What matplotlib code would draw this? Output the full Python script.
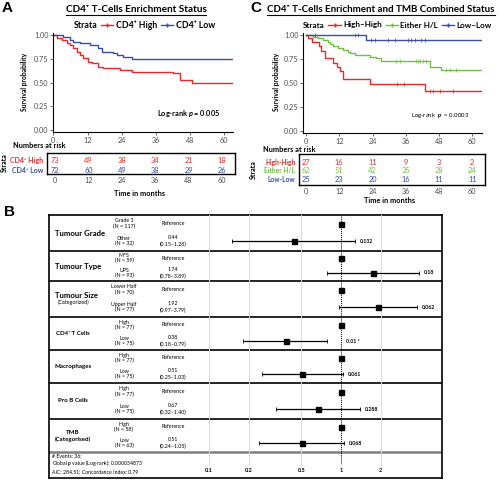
import numpy as np
import matplotlib
matplotlib.use('Agg')
import matplotlib.pyplot as plt
from matplotlib.lines import Line2D

plt.rcParams['font.family'] = ['Lato', 'DejaVu Sans']
plt.rcParams['mathtext.fontset'] = 'custom'
plt.rcParams['mathtext.it'] = 'Lato:italic:bold'
plt.rcParams['mathtext.rm'] = 'Lato:bold'

# ---------------- data: panel A (KM, CD4+ enrichment)
a_names = ['CD4⁺ High', 'CD4⁺ Low']
a_time = [[0, 1.2, 2.9, 4.7, 5.8, 7.0, 8.2, 9.4, 10.5, 12.3, 13.5, 15.8, 17.5, 23.4, 27.5, 42.1, 44.4, 48.5, 62.6],
          [0, 3.5, 5.8, 7.0, 9.4, 12.9, 15.8, 17.0, 21.0, 22.2, 24.6, 27.5, 62.6]]
a_surv = [[1.0, 0.965, 0.95, 0.92, 0.895, 0.86, 0.825, 0.79, 0.755, 0.72, 0.70, 0.667, 0.65, 0.632, 0.614, 0.60, 0.526, 0.498, 0.498],
          [1.0, 0.98, 0.95, 0.93, 0.91, 0.895, 0.86, 0.825, 0.81, 0.79, 0.77, 0.747, 0.747]]
a_risk = [[73, 49, 38, 34, 21, 18],
          [72, 60, 49, 38, 29, 26]]
a_cols = ['#E8282B', '#3A4DA0']

# ---------------- data: panel C (KM, combined status)
c_names = ['High–High', 'Either H/L', 'Low–Low']
c_table_names = ['High-High', 'Either H/L', 'Low-Low']
c_time = [[0, 0.8, 2.2, 4.5, 5.5, 6.8, 9.8, 11.0, 12.2, 13.5, 23.0, 42.8, 63.4],
          [0, 2.6, 4.4, 6.2, 8.0, 8.6, 9.8, 11.6, 13.4, 15.2, 15.8, 17.6, 23.0, 25.4, 27.2, 44.6, 48.8, 63.4],
          [0, 21.6, 63.4]]
c_surv = [[1.0, 0.963, 0.926, 0.889, 0.833, 0.759, 0.713, 0.667, 0.630, 0.541, 0.487, 0.417, 0.417],
          [1.0, 0.983, 0.965, 0.948, 0.93, 0.906, 0.885, 0.861, 0.844, 0.826, 0.809, 0.79, 0.774, 0.757, 0.727, 0.665, 0.632, 0.632],
          [1.0, 0.944, 0.944]]
c_cens = [[32.7, 35.5, 44.6, 45.8, 48.4, 53.0],
          [32.6, 33.8, 39.8, 40.4, 41.0, 42.2, 43.4, 50.6, 51.8, 54.2],
          [3.2, 17.6, 18.8, 23.6, 24.8, 29.6, 32.0, 36.8, 38.0, 39.2, 41.6, 42.8]]
c_risk = [[27, 16, 11, 9, 3, 2],
          [62, 51, 42, 35, 28, 24],
          [25, 23, 20, 16, 11, 11]]
c_cols = ['#E8282B', '#72BF44', '#3A4DA0']

risk_ticks = [0, 12, 24, 36, 48, 60]

# ---------------- data: panel B (forest plot)
b_vars = ['Tumour Grade', 'Tumour Type', 'Tumour Size', 'CD4⁺ T Cells', 'Macrophages', 'Pro B Cells', 'TMB']
b_sub = ['', '', '(Categorized)', '', '', '', '(Categorised)']
b_ref = ['Grade 3\n(N = 117)', 'MFS\n(N = 59)', 'Lower Half\n(N = 70)', 'High\n(N = 77)',
         'High\n(N = 77)', 'High\n(N = 77)', 'High\n(N = 58)']
b_cmp = ['Other\n(N = 32)', 'UPS\n(N = 93)', 'Upper Half\n(N = 77)', 'Low\n(N = 75)',
         'Low\n(N = 75)', 'Low\n(N = 75)', 'Low\n(N = 63)']
b_hr = [0.44, 1.74, 1.92, 0.38, 0.51, 0.67, 0.51]
b_lo = [0.15, 0.78, 0.97, 0.18, 0.25, 0.32, 0.24]
b_hi = [1.28, 3.89, 3.79, 0.79, 1.03, 1.40, 1.05]
b_p = ['0.132', '0.18', '0.062', '0.01 *', '0.061', '0.288', '0.068']
b_ticks = [0.1, 0.2, 0.5, 1, 2]

W, H = 500, 480
fig = plt.figure(figsize=(5, 4.8), dpi=100)
gray = '#4D4D4D'


def rect(x0, y0, x1, y1):
    # pixel box (top-left origin) -> figure fraction rect
    return [x0 / W, 1 - y1 / H, (x1 - x0) / W, (y1 - y0) / H]


def fx(x):
    return x / W


def fy(y):
    return 1 - y / H


def km_panel(box, xlim, times, survs, cols, cens=None):
    ax = fig.add_axes(rect(*box))
    for i in range(len(times)):
        ax.step(times[i], survs[i], where='post', color=cols[i], lw=1.0)
        if cens is not None:
            t = np.array(times[i])
            s = np.array(survs[i])
            cy = s[np.searchsorted(t, cens[i], side='right') - 1]
            ax.plot(cens[i], cy, '+', color=cols[i], ms=2.5, mew=0.5)
    ax.set_xlim(*xlim)
    ax.set_ylim(-0.02, 1.02)
    ax.set_xticks(risk_ticks)
    ax.set_yticks([0, 0.25, 0.5, 0.75, 1.0])
    ax.set_yticklabels(['0.00', '0.25', '0.50', '0.75', '1.00'])
    for s in ['top', 'right']:
        ax.spines[s].set_visible(False)
    for s in ['left', 'bottom']:
        ax.spines[s].set_linewidth(0.8)
    ax.tick_params(labelsize=5.2, colors=gray, length=2, width=0.6, pad=1.5)
    return ax


def risk_table(box, xlim, risk, names, cols, ylim, lab_size):
    ax = fig.add_axes(rect(*box))
    for i in range(len(risk)):
        for j, t in enumerate(risk_ticks):
            ax.text(t, i, str(risk[i][j]), color=cols[i], fontsize=5.3,
                    ha='center', va='center')
        ax.text(-0.02, i, names[i], color=cols[i], fontsize=lab_size, fontweight='bold',
                ha='right', va='center', transform=ax.get_yaxis_transform())
    ax.set_xlim(*xlim)
    ax.set_ylim(*ylim)
    ax.set_yticks([])
    ax.set_xticks(risk_ticks)
    ax.tick_params(labelsize=5.2, colors=gray, length=0, pad=2)
    for s in ax.spines.values():
        s.set_linewidth(1.0)
    return ax


# ---------------- panel A
axA = km_panel((53.3, 33, 232.9, 132), (0, 63), a_time, a_surv, a_cols)
axA.text(0.93, 0.19, r'Log-rank $p$ = 0.005', transform=axA.transAxes,
         fontsize=5.3, fontweight='bold', ha='right', va='center')
risk_table((47, 153, 235, 174), (-2.9, 64.7), a_risk, a_names, a_cols, (1.4, -0.7), 5.0)

fig.text(fx(2), fy(8), 'A', fontsize=11, fontweight='bold', family='Liberation Sans', va='center')
tA = fig.text(fx(136), fy(10), 'CD4⁺ T-Cells Enrichment Status', fontsize=7.2,
              fontweight='bold', ha='center', va='center')
fig.text(fx(25), fy(82), 'Survival probability', rotation=90, fontsize=4.9,
         fontweight='bold', ha='center', va='center')
fig.text(fx(13), fy(146), 'Numbers at risk', fontsize=5.3, fontweight='bold', va='center')
fig.text(fx(4), fy(163), 'Strata', rotation=90, fontsize=5.0, fontweight='bold',
         ha='center', va='center')
fig.text(fx(140), fy(193), 'Time in months', fontsize=5.3, fontweight='bold',
         ha='center', va='center')

hA = [Line2D([], [], alpha=0)] + [Line2D([], [], color=c, lw=1, marker='+', ms=3) for c in a_cols]
fig.legend(hA, ['Strata'] + a_names, loc='center', bbox_to_anchor=(fx(137), fy(25)),
           ncol=3, frameon=False, prop={'weight': 'bold', 'size': 6.3},
           handlelength=1.4, handletextpad=0.3, columnspacing=0.4)

# ---------------- panel C
axC = km_panel((303.3, 33, 482.0, 133), (-1, 63.5), c_time, c_surv, c_cols, c_cens)
axC.text(0.93, 0.17, r'Log-rank  $p$  = 0.0003', transform=axC.transAxes,
         fontsize=4.3, ha='right', va='center')
risk_table((299, 154, 485, 185), (-2.5, 64.6), c_risk, c_table_names, c_cols, (2.64, -0.96), 4.8)

fig.text(fx(250), fy(8), 'C', fontsize=11, fontweight='bold', family='Liberation Sans', va='center')
tC = fig.text(fx(381), fy(10), 'CD4⁺ T-Cells Enrichment and TMB Combined Status', fontsize=7.0,
              fontweight='bold', ha='center', va='center')
fig.text(fx(276), fy(82), 'Survival probability', rotation=90, fontsize=4.9,
         fontweight='bold', ha='center', va='center')
fig.text(fx(263), fy(149), 'Numbers at risk', fontsize=5.3, fontweight='bold', va='center')
fig.text(fx(253), fy(170), 'Strata', rotation=90, fontsize=5.0, fontweight='bold',
         ha='center', va='center')
fig.text(fx(390), fy(200), 'Time in months', fontsize=5.3, fontweight='bold',
         ha='center', va='center')

hC = [Line2D([], [], alpha=0)] + [Line2D([], [], color=c, lw=1, marker='+', ms=3) for c in c_cols]
fig.legend(hC, ['Strata'] + c_names, loc='center', bbox_to_anchor=(fx(390), fy(25)),
           ncol=4, frameon=False, prop={'weight': 'bold', 'size': 5.9},
           handlelength=1.5, handletextpad=0.3, columnspacing=0.45)

# ---------------- panel B
fig.text(fx(4), fy(212), 'B', fontsize=11, fontweight='bold', family='Liberation Sans', va='center')
bx = (49, 215, 442, 478)
axT = fig.add_axes(rect(*bx))
axT.set_xlim(bx[0], bx[2])
axT.set_ylim(bx[3], bx[1])
axT.set_xticks([])
axT.set_yticks([])
for s in axT.spines.values():
    s.set_linewidth(1.2)

axF = fig.add_axes(rect(*bx), sharey=axT)
axF.set_xscale('log')
dec = 132.0  # pixels per decade
axF.set_xlim(10 ** ((bx[0] - 341) / dec), 10 ** ((bx[2] - 341) / dec))
axF.axis('off')
axF.patch.set_alpha(0)

edges = [215, 251, 281, 317, 350, 383, 419, 452]
for tk in b_ticks:
    if tk == 1:
        axF.plot([tk, tk], [edges[0], 464], color='black', lw=0.7, ls=(0, (1, 1)))
    else:
        axF.plot([tk, tk], [edges[0], 464], color='#D9D9D9', lw=0.7)
    axF.text(tk, 470, str(tk), fontsize=4, fontweight='bold', ha='center', va='center')

for e in edges[1:-1]:
    axT.axhline(e, color='black', lw=1.2)
axT.axhline(edges[-1], color='#7F7F7F', lw=1.8)

for i in range(len(b_vars)):
    top, bot = edges[i], edges[i + 1]
    h = bot - top
    ry, ey, my = top + 0.24 * h, top + 0.73 * h, top + 0.5 * h
    if i < 3:
        axT.text(55, my - (3.5 if b_sub[i] else 0), b_vars[i], fontsize=5.6, fontweight='bold',
                 ha='left', va='center')
        if b_sub[i]:
            axT.text(74, my + 3.5, b_sub[i], fontsize=4, ha='center', va='center')
    else:
        axT.text(73, my - (3.5 if b_sub[i] else 0), b_vars[i], fontsize=4.4, fontweight='bold',
                 ha='center', va='center')
        if b_sub[i]:
            axT.text(73, my + 3.5, b_sub[i], fontsize=4.4, fontweight='bold', ha='center', va='center')
    axT.text(124, ry, b_ref[i], fontsize=3.8, ha='center', va='center', linespacing=1.0)
    axT.text(124, ey, b_cmp[i], fontsize=3.8, ha='center', va='center', linespacing=1.0)
    axT.text(173, ry, 'Reference', fontsize=3.8, ha='center', va='center')
    axT.text(173, ey, '%.2f\n(%.2f–%.2f)' % (b_hr[i], b_lo[i], b_hi[i]), fontsize=3.8,
             ha='center', va='center', linespacing=1.3)

    axF.plot(1, ry, 's', color='black', ms=3.6)
    axF.errorbar(b_hr[i], ey, xerr=[[b_hr[i] - b_lo[i]], [b_hi[i] - b_hr[i]]], fmt='s',
                 color='black', ms=3.6, elinewidth=0.9, capsize=1.2, capthick=0.6)
    axF.text(max(b_hi[i], 1) * 1.09, ey, b_p[i], fontsize=3.8, fontweight='bold',
             ha='left', va='center')

axT.text(52, 456, '# Events: 36;', fontsize=3.7, ha='left', va='center')
axT.text(52, 463, r'Global $p$ value (Log-rank): 0.000034873', fontsize=3.7, ha='left', va='center')
axT.text(52, 472, 'AIC: 284.51; Concordance Index: 0.79', fontsize=3.7, ha='left', va='center')

# underline the two titles
fig.canvas.draw()
for t in (tA, tC):
    bb = t.get_window_extent()
    yl = bb.y0 - 0.5
    fig.add_artist(Line2D([bb.x0 / W, bb.x1 / W], [yl / H, yl / H], color='black', lw=0.8))

fig.savefig('out.png', dpi=100, facecolor='white')
